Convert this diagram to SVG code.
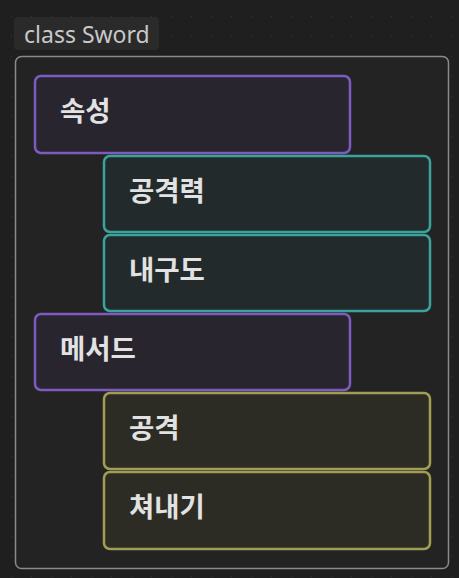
<svg xmlns="http://www.w3.org/2000/svg" width="459" height="578" viewBox="0 0 459 578">
<defs>
<pattern id="dots" x="11" y="16" width="20" height="20" patternUnits="userSpaceOnUse">
<rect x="-0.5" y="-0.5" width="1.5" height="1.5" fill="#353535"/>
</pattern>
<style>
.lbl{font-family:"Noto Sans CJK KR","Noto Sans",sans-serif;font-weight:bold;font-size:27.5px;fill:#e2e2e2}
.grp{fill:#28252f;stroke:#7e5bbf;stroke-width:2.5}
.att{fill:#222a2b;stroke:#3aa39b;stroke-width:2.5}
.mth{fill:#2c2c24;stroke:#a09d55;stroke-width:2.5}
</style>
</defs>
<rect width="459" height="578" fill="#1f1f1f"/>
<rect width="459" height="578" fill="url(#dots)"/>
<g id="title">
<rect x="14" y="17" width="145" height="33" rx="4" fill="#2a2a2a"/>
<text x="24" y="43" font-family="Noto Sans, sans-serif" font-size="23" fill="#c8c8c8">class Sword</text>
</g>
<g id="class-sword">
<rect x="15.5" y="56.5" width="433" height="512" rx="6" fill="#232323" stroke="#8a8a8a" stroke-width="1.5"/>
</g>
<g id="connectors"></g>
<g id="attrs">
<rect class="grp" x="35" y="76" width="315" height="77" rx="6"/>
<text class="lbl" x="60" y="121">속성</text>
</g>
<g id="attack-power">
<rect class="att" x="104" y="156" width="326" height="76" rx="6"/>
<text class="lbl" x="129" y="201">공격력</text>
</g>
<g id="durability">
<rect class="att" x="104" y="235" width="326" height="76" rx="6"/>
<text class="lbl" x="129" y="280">내구도</text>
</g>
<g id="methods">
<rect class="grp" x="35" y="314" width="315" height="76" rx="6"/>
<text class="lbl" x="60" y="359">메서드</text>
</g>
<g id="attack">
<rect class="mth" x="104" y="393" width="326" height="76" rx="6"/>
<text class="lbl" x="129" y="438">공격</text>
</g>
<g id="parry">
<rect class="mth" x="104" y="472" width="326" height="77" rx="6"/>
<text class="lbl" x="129" y="517">쳐내기</text>
</g>
</svg>
